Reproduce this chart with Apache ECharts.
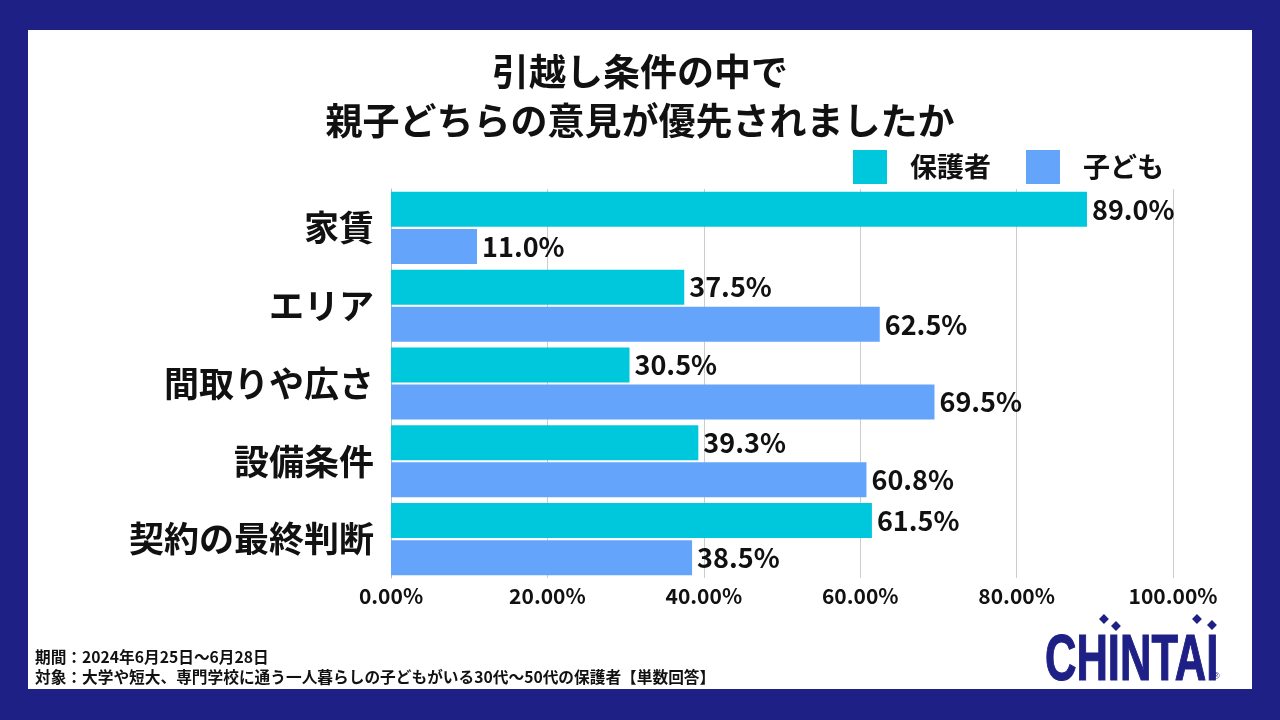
<!DOCTYPE html>
<html><head><meta charset="utf-8">
<script src="https://cdn.jsdelivr.net/npm/echarts@6/dist/echarts.min.js"></script>
<style>html,body{margin:0;padding:0;background:#1f2086}#c{width:1280px;height:720px}</style>
</head><body><div id="c"></div>
<script>
const categories = ['家賃', 'エリア', '間取りや広さ', '設備条件', '契約の最終判断'];
const parents = [89.0, 37.5, 30.5, 39.3, 61.5];
const children = [11.0, 62.5, 69.5, 60.8, 38.5];
const seriesNames = ['保護者', '子ども'];
const titleLines = ['引越し条件の中で', '親子どちらの意見が優先されましたか'];
const footLines = ['期間：2024年6月25日～6月28日', '対象：大学や短大、専門学校に通う一人暮らしの子どもがいる30代～50代の保護者【単数回答】'];

const FONT = '"Noto Sans CJK JP", "Noto Sans", sans-serif';
const chart = echarts.init(document.getElementById('c'));
const labelOpt = {
  show: true, position: 'right', distance: 5,
  formatter: p => p.value.toFixed(1) + '%',
  fontSize: 27, fontWeight: 'bold', color: '#111', fontFamily: FONT
};
chart.setOption({
  backgroundColor: '#1f2086',
  textStyle: { fontFamily: FONT },
  graphic: [
    { type: 'rect', left: 28, top: 30, shape: { width: 1224, height: 659 }, style: { fill: '#fff' }, z: -10 },
    { type: 'text', left: 'center', top: 47, style: { text: titleLines.join('\n'), font: 'bold 37px ' + FONT, lineHeight: 49, textAlign: 'center', fill: '#111' } },
    { type: 'text', left: 35, top: 647, style: { text: footLines.join('\n'), font: 'bold 15.7px ' + FONT, lineHeight: 20, fill: '#111' } },
    { type: 'text', x: 1045, y: 694, scaleX: 0.68, style: { text: 'CHINTAI', font: 'bold 64px "Liberation Sans Narrow", "Liberation Sans", sans-serif', fill: '#1f2086', stroke: '#1f2086', lineWidth: 1.2, textVerticalAlign: 'bottom' } },
    { type: 'rect', x: 1099, y: 619, rotation: Math.PI / 4, shape: { width: 7, height: 7 }, style: { fill: '#1f2086' } },
    { type: 'rect', x: 1111, y: 626, rotation: Math.PI / 4, shape: { width: 7, height: 7 }, style: { fill: '#1f2086' } },
    { type: 'rect', x: 1192, y: 619, rotation: Math.PI / 4, shape: { width: 7, height: 7 }, style: { fill: '#1f2086' } },
    { type: 'rect', x: 1207, y: 625, rotation: Math.PI / 4, shape: { width: 7, height: 7 }, style: { fill: '#1f2086' } },
    { type: 'text', x: 1213, y: 672, style: { text: '®', font: '9px sans-serif', fill: '#1f2086' } }
  ],
  legend: {
    left: 853, top: 150, padding: 0, itemWidth: 34, itemHeight: 34, itemGap: 35,
    icon: 'rect',
    textStyle: { fontSize: 27, fontWeight: 'bold', color: '#111', padding: [0, 0, 0, 18], fontFamily: FONT },
    data: seriesNames
  },
  grid: { left: 391, right: 107, top: 189, bottom: 142, containLabel: false },
  xAxis: {
    type: 'value', min: 0, max: 100, interval: 20,
    axisLine: { show: false }, axisTick: { show: false },
    splitLine: { lineStyle: { color: '#cccccc', width: 1 } },
    axisLabel: { formatter: v => v.toFixed(2) + '%', fontSize: 21, fontWeight: 'bold', color: '#111', margin: 8, fontFamily: FONT }
  },
  yAxis: {
    type: 'category', data: categories, inverse: true,
    axisLine: { show: true, lineStyle: { color: '#bbbbbb' } }, axisTick: { show: false },
    axisLabel: { fontSize: 35, fontWeight: 'bold', color: '#111', margin: 17, fontFamily: FONT }
  },
  series: [
    { name: seriesNames[0], type: 'bar', data: parents, barWidth: 35, barGap: '6%', itemStyle: { color: '#00c8dc' }, label: labelOpt },
    { name: seriesNames[1], type: 'bar', data: children, barWidth: 35, barGap: '6%', itemStyle: { color: '#64a5fb' }, label: labelOpt }
  ]
});
</script></body></html>
